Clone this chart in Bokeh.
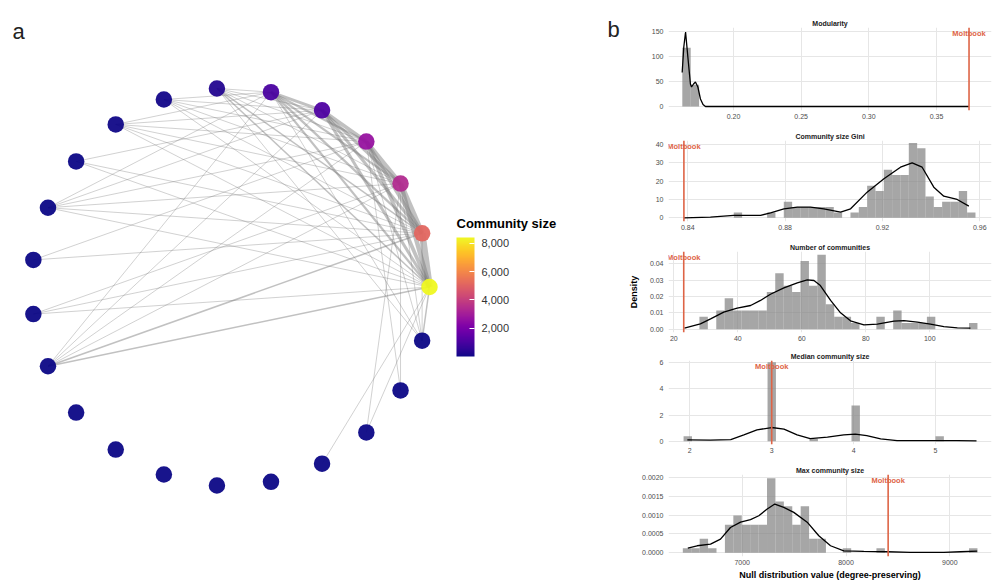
import numpy as np
from bokeh.plotting import figure
from bokeh.models import (ColumnDataSource, LinearColorMapper, ColorBar, FixedTicker,
                          Label, Span, Range1d, Title)
from bokeh.layouts import row, column
from bokeh.palettes import Plasma256
from bokeh.embed import file_html
from bokeh.resources import INLINE

FONT = "Liberation Sans"
RED = "#DE6446"

# ---------------- panel a data ----------------
community_sizes = [8420, 5100, 3400, 2700, 1150, 1050, 300, 90, 50, 20, 6, 3,
                   3, 3, 2, 2, 2, 2, 2, 2, 2, 2, 2]
edge_src = [0, 1, 2, 3, 4, 0, 1, 2, 3, 0, 1, 2, 0, 1, 0,
            6, 6, 6, 6, 6, 6, 6,
            7, 7, 7, 7, 7, 7,
            8, 8, 8, 8, 8, 8,
            9, 9, 9,
            10, 10, 10, 10, 10, 10,
            11, 11,
            12, 12, 12,
            13, 13, 13, 13, 13, 13,
            22, 22, 22, 22, 22,
            21, 21, 20, 20, 19]
edge_dst = [1, 2, 3, 4, 5, 2, 3, 4, 5, 3, 4, 5, 4, 5, 5,
            5, 4, 3, 2, 1, 0, 22,
            5, 4, 3, 2, 1, 0,
            5, 4, 3, 2, 1, 0,
            4, 1, 0,
            5, 4, 3, 2, 1, 0,
            3, 1,
            2, 1, 0,
            5, 4, 3, 2, 1, 0,
            0, 1, 2, 3, 5,
            2, 3, 2, 0, 0]
edge_weight = [9, 7, 6, 5, 4, 6, 5, 4, 3, 5, 4, 3, 4, 3, 3,
               1, 1, 1, 1, 2, 2, 1,
               1, 1, 1, 1, 1, 1,
               1, 1, 1, 1, 1, 1,
               1, 1, 1,
               1, 1, 1, 1, 1, 1,
               1, 1,
               1, 1, 1,
               1, 1, 1, 1, 2, 2,
               2, 1, 1, 1, 1,
               1, 1, 1, 1, 1]
colorbar_ticks = [2000, 4000, 6000, 8000]
colorbar_labels = ["2,000", "4,000", "6,000", "8,000"]

# ---------------- panel b data ----------------
mod_counts = [73, 27]
mod_bin_start = 0.1622
mod_bin_width = 0.0062
mod_kde_x = [0.1621, 0.1633, 0.1646, 0.1663, 0.1682, 0.1690, 0.1705, 0.1719,
             0.1737, 0.1756, 0.1775, 0.1793, 0.3740]
mod_kde_y = [68, 119, 149, 99, 45, 39, 45, 49, 39, 15, 4, 0, 0]
mod_obs = 0.374
mod_xticks = [0.20, 0.25, 0.30, 0.35]
mod_xlabels = ["0.20", "0.25", "0.30", "0.35"]
mod_yticks = [0, 50, 100, 150]
mod_ylabels = ["0", "50", "100", "150"]

gini_counts = [1, 0, 0, 0, 1, 0, 3, 2, 2, 2, 2, 2, 1, 0, 1, 2, 6, 5, 9, 8, 8,
               14, 13, 4, 2, 3, 3, 5, 1]
gini_bin_start = 0.8589
gini_bin_width = 0.003425
gini_kde_x = [0.8384, 0.8493, 0.8589, 0.8699, 0.8740, 0.8795, 0.8850, 0.8904,
              0.8959, 0.9028, 0.9069, 0.9137, 0.9206, 0.9274, 0.9322, 0.9363,
              0.9411, 0.9452, 0.9507, 0.9555]
gini_kde_y = [0, 0.4, 1.3, 1.3, 2.7, 4.9, 5.8, 5.8, 4.9, 3.1, 4.9, 14, 21.3,
              27.6, 30, 27.6, 16.7, 11.8, 10, 6.4]
gini_obs = 0.8384
gini_xticks = [0.84, 0.88, 0.92, 0.96]
gini_xlabels = ["0.84", "0.88", "0.92", "0.96"]
gini_yticks = [0, 10, 20, 30, 40]
gini_ylabels = ["0", "10", "20", "30", "40"]

ncom_counts = [2, 0, 3, 5, 3, 3, 3, 3, 6, 9, 7, 6, 11, 7, 12, 4, 2, 2, 1, 0, 0,
               2, 0, 3, 1, 1, 1, 2, 0, 0, 0, 0, 1]
ncom_bin_start = 28.0
ncom_bin_width = 2.633
ncom_kde_x = [23.3, 28.3, 31.5, 35.6, 39.8, 44.0, 47.1, 50.2, 54.4, 58.6, 61.7,
              63.8, 65.8, 69.0, 72.1, 75.2, 79.4, 83.6, 88.8, 91.9, 96.1, 100.2,
              104.4, 108.6, 112.7]
ncom_kde_y = [0.0006, 0.0033, 0.0063, 0.0104, 0.0129, 0.0145, 0.0176, 0.0214,
              0.0253, 0.0284, 0.0302, 0.0298, 0.0267, 0.0176, 0.0100, 0.0051,
              0.0027, 0.0031, 0.0049, 0.0053, 0.0043, 0.0031, 0.0016, 0.0008,
              0.0006]
ncom_obs = 23.1
ncom_xticks = [20, 40, 60, 80, 100]
ncom_xlabels = ["20", "40", "60", "80", "100"]
ncom_yticks = [0, 0.01, 0.02, 0.03, 0.04]
ncom_ylabels = ["0.00", "0.01", "0.02", "0.03", "0.04"]

med_counts = [4, 0, 0, 0, 0, 0, 0, 0, 0, 0, 62, 0, 0, 0, 0, 2, 0, 0, 0, 0, 28,
              0, 0, 0, 0, 0, 0, 0, 0, 0, 4]
med_bin_start = 1.924
med_bin_width = 0.1025
med_kde_x = [1.97, 2.25, 2.50, 2.66, 2.82, 3.00, 3.15, 3.31, 3.47, 3.68, 3.88,
             4.02, 4.16, 4.33, 4.53, 4.77, 5.00, 5.26, 5.50]
med_kde_y = [0.10, 0.08, 0.13, 0.49, 0.87, 1.05, 0.92, 0.49, 0.20, 0.31, 0.49,
             0.54, 0.43, 0.18, 0.05, 0.05, 0.05, 0.05, 0.03]
med_obs = 3.0
med_xticks = [2, 3, 4, 5]
med_xlabels = ["2", "3", "4", "5"]
med_yticks = [0, 2, 4, 6]
med_ylabels = ["0", "2", "4", "6"]

max_counts = [1, 1, 3, 1, 0, 6, 8, 6, 6, 6, 16, 11, 10, 6, 10, 3, 3, 0, 0, 1,
              0, 0, 0, 1, 0, 0, 0, 0, 0, 0, 0, 0, 0, 0, 1]
max_bin_start = 6428
max_bin_width = 81.1
max_kde_x = [6476, 6566, 6695, 6791, 6887, 6984, 7080, 7160, 7241, 7314, 7401,
             7497, 7626, 7738, 7851, 7979, 8172, 8397, 8621, 8942, 9103, 9264]
max_kde_y = [0.000124, 0.000186, 0.00023, 0.00036, 0.00067, 0.00081, 0.00088,
             0.00098, 0.00116, 0.00129, 0.0012, 0.00107, 0.00081, 0.00045,
             0.000186, 0.000053, 0.000035, 0.000027, 0.0000088, 0.0000088,
             0.000027, 0.000044]
max_obs = 8406
max_xticks = [7000, 8000, 9000]
max_xlabels = ["7000", "8000", "9000"]
max_yticks = [0, 0.0005, 0.001, 0.0015, 0.002]
max_ylabels = ["0.0000", "0.0005", "0.0010", "0.0015", "0.0020"]

# ---------------- panel a ----------------
n_nodes = len(community_sizes)
theta = 2 * np.pi * np.arange(n_nodes) / n_nodes
node_x = np.cos(theta)
node_y = np.sin(theta)

WA = 620
HA = 582
pa = figure(width=WA, height=HA, x_range=Range1d(-1.1558, 1.9598),
            y_range=Range1d(-1.4849, 1.4397), output_backend="svg",
            toolbar_location=None, x_axis_location=None, y_axis_location=None,
            min_border=0)
pa.grid.visible = False
pa.outline_line_color = None

order = np.argsort(edge_weight, kind="stable")
exs = [[node_x[edge_src[i]], node_x[edge_dst[i]]] for i in order]
eys = [[node_y[edge_src[i]], node_y[edge_dst[i]]] for i in order]
ews = [0.75 * edge_weight[i] for i in order]
pa.multi_line(xs="xs", ys="ys", line_width="w",
              source=ColumnDataSource(dict(xs=exs, ys=eys, w=ews)),
              line_color="#767676", line_alpha=0.45)

mapper = LinearColorMapper(palette=Plasma256, low=min(community_sizes),
                           high=max(community_sizes))
pa.scatter(x="x", y="y", size=16.5,
           source=ColumnDataSource(dict(x=node_x, y=node_y, s=community_sizes)),
           fill_color={"field": "s", "transform": mapper}, fill_alpha=0.95,
           line_color=None)

cb = ColorBar(color_mapper=mapper, ticker=FixedTicker(ticks=colorbar_ticks),
              major_label_overrides=dict(zip(colorbar_ticks, colorbar_labels)),
              location=(456, 226), width=18, height=119, padding=0,
              major_label_text_font=FONT, major_label_text_font_size="11px",
              major_label_text_color="#333333", label_standoff=7,
              major_tick_line_color="white", major_tick_in=5, major_tick_out=0,
              minor_tick_line_color=None, bar_line_color=None,
              background_fill_alpha=0, border_line_color=None)
pa.add_layout(cb)
pa.add_layout(Label(x=456, y=HA - 223, x_units="screen", y_units="screen",
                    text="Community size", text_font=FONT, text_font_size="13px",
                    text_font_style="bold", text_color="black",
                    text_align="left", text_baseline="middle"))
pa.add_layout(Label(x=18, y=HA - 31, x_units="screen", y_units="screen", text="a",
                    text_font=FONT, text_font_size="22px", text_align="center",
                    text_baseline="middle", text_color="#222222"))
pa.add_layout(Label(x=613, y=HA - 29, x_units="screen", y_units="screen", text="b",
                    text_font=FONT, text_font_size="22px", text_align="center",
                    text_baseline="middle", text_color="#222222"))

# ---------------- panel b ----------------
BL = 48
BR = 5
FW = 996 - WA - BL - BR


def hist_panel(counts, start, width, kde_x, kde_y, obs, xr, yr, xticks, xlabels,
               yticks, ylabels, title, fh, top, bottom, xlabel=None, ylabel=None):
    p = figure(width=BL + FW + BR, height=top + fh + bottom,
               x_range=Range1d(*xr), y_range=Range1d(*yr), output_backend="svg",
               toolbar_location=None, min_border_left=BL, min_border_right=BR,
               min_border_top=top, min_border_bottom=bottom)
    p.outline_line_color = None
    counts = np.array(counts, dtype=float)
    lefts = start + width * np.arange(len(counts))
    dens = counts / (counts.sum() * width)
    keep = counts > 0
    p.quad(left=lefts[keep], right=lefts[keep] + width, bottom=0,
           top=dens[keep], fill_color="#808080", fill_alpha=0.7, line_color=None)
    p.line(kde_x, kde_y, line_color="black", line_width=1.3)
    p.add_layout(Span(location=obs, dimension="height", line_color=RED,
                      line_width=1.6))
    p.add_layout(Label(x=obs, y=fh - 6, y_units="screen", text="Moltbook",
                       text_font=FONT, text_font_size="7.5px",
                       text_font_style="bold", text_color=RED,
                       text_align="center", text_baseline="middle"))
    p.add_layout(Title(text=title, align="center", text_font=FONT,
                       text_font_size="7px", text_font_style="bold",
                       text_color="#1a1a1a", standoff=2), "above")
    xt = FixedTicker(ticks=xticks)
    yt = FixedTicker(ticks=yticks)
    p.xaxis.ticker = xt
    p.xgrid.ticker = xt
    p.yaxis.ticker = yt
    p.ygrid.ticker = yt
    p.xaxis.major_label_overrides = dict(zip(xticks, xlabels))
    p.yaxis.major_label_overrides = dict(zip(yticks, ylabels))
    for ax in (p.xaxis, p.yaxis):
        ax.axis_line_color = None
        ax.major_tick_line_color = None
        ax.minor_tick_line_color = None
        ax.major_tick_out = 0
        ax.major_tick_in = 0
        ax.minor_tick_out = 0
        ax.minor_tick_in = 0
        ax.major_label_text_font = FONT
        ax.major_label_text_font_size = "7px"
        ax.major_label_text_color = "#4d4d4d"
    p.xaxis.major_label_standoff = 3
    p.yaxis.major_label_standoff = 5
    p.grid.grid_line_color = "#e6e6e6"
    p.grid.grid_line_width = 1
    if xlabel:
        p.xaxis.axis_label = xlabel
        p.xaxis.axis_label_text_font = FONT
        p.xaxis.axis_label_text_font_size = "9px"
        p.xaxis.axis_label_text_font_style = "bold"
        p.xaxis.axis_label_text_color = "black"
        p.xaxis.axis_label_standoff = 2
    if ylabel:
        p.yaxis.axis_label = ylabel
        p.yaxis.axis_label_text_font = FONT
        p.yaxis.axis_label_text_font_size = "9px"
        p.yaxis.axis_label_text_font_style = "bold"
        p.yaxis.axis_label_text_color = "black"
        p.yaxis.axis_label_standoff = 8
    return p


p1 = hist_panel(mod_counts, mod_bin_start, mod_bin_width, mod_kde_x, mod_kde_y,
                mod_obs, (0.1520, 0.3906), (-8, 158), mod_xticks, mod_xlabels,
                mod_yticks, mod_ylabels, "Modularity", 83, 27, 15)
p2 = hist_panel(gini_counts, gini_bin_start, gini_bin_width, gini_kde_x,
                gini_kde_y, gini_obs, (0.83207, 0.96481), (-2.02, 42.18),
                gini_xticks, gini_xlabels, gini_yticks, gini_ylabels,
                "Community size Gini", 81, 15, 15)
p3 = hist_panel(ncom_counts, ncom_bin_start, ncom_bin_width, ncom_kde_x,
                ncom_kde_y, ncom_obs, (18.34, 119.28), (-0.00202, 0.04753),
                ncom_xticks, ncom_xlabels, ncom_yticks, ncom_ylabels,
                "Number of communities", 81, 15, 15, ylabel="Density")
p4 = hist_panel(med_counts, med_bin_start, med_bin_width, med_kde_x, med_kde_y,
                med_obs, (1.740, 5.683), (-0.25, 6.18), med_xticks, med_xlabels,
                med_yticks, med_ylabels, "Median community size", 84, 13, 16)
p5 = hist_panel(max_counts, max_bin_start, max_bin_width, max_kde_x, max_kde_y,
                max_obs, (6290, 9401.7), (-0.0000982, 0.002072), max_xticks,
                max_xlabels, max_yticks, max_ylabels, "Max community size",
                82, 14, 26, xlabel="Null distribution value (degree-preserving)")

layout = row(pa, column(p1, p2, p3, p4, p5, spacing=0), spacing=0)
open("out.html", "w").write(file_html(layout, INLINE))
